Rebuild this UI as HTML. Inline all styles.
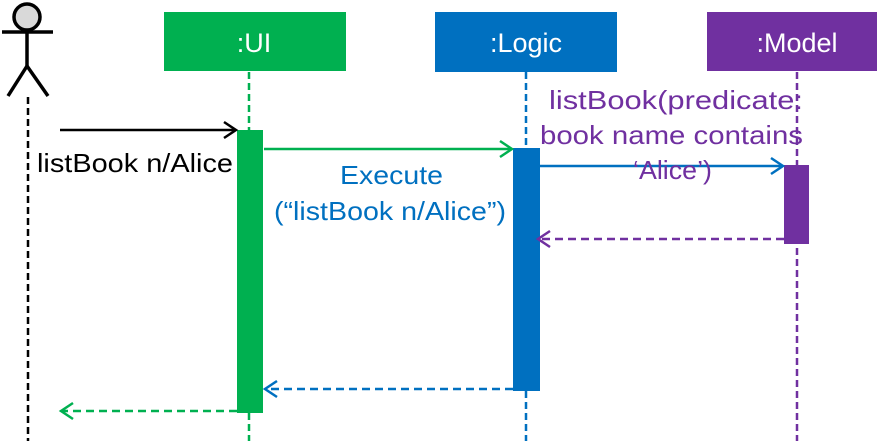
<!DOCTYPE html>
<html><head><style>
body{margin:0;background:#fff;}
svg{display:block;font-family:"Liberation Sans",sans-serif;}
</style></head><body>
<svg width="887" height="441" viewBox="0 0 887 441" xmlns="http://www.w3.org/2000/svg">
<circle cx="27" cy="17" r="13" fill="#d9d9d9" stroke="#000" stroke-width="3.5"/>
<line x1="2" y1="32" x2="53" y2="32" stroke="#000" stroke-width="3.5"/>
<line x1="27" y1="30" x2="27" y2="66" stroke="#000" stroke-width="3.5"/>
<line x1="27" y1="66" x2="8" y2="96" stroke="#000" stroke-width="3.5"/>
<line x1="27" y1="66" x2="48" y2="96" stroke="#000" stroke-width="3.5"/>
<line x1="28" y1="97" x2="28" y2="441" stroke="#000" stroke-width="2.5" stroke-dasharray="7,4"/>
<rect x="164" y="12" width="182" height="59" fill="#00B050"/>
<text x="254" y="52" fill="#fff" font-size="27" text-anchor="middle">:UI</text>
<rect x="435" y="12" width="182" height="60" fill="#0070C0"/>
<text x="526" y="52" fill="#fff" font-size="27" text-anchor="middle">:Logic</text>
<rect x="707" y="12" width="170" height="59" fill="#7030A0"/>
<text x="797" y="52" fill="#fff" font-size="27" text-anchor="middle">:Model</text>
<line x1="249" y1="72" x2="249" y2="441" stroke="#00B050" stroke-width="2.5" stroke-dasharray="7,4"/>
<line x1="526" y1="72" x2="526" y2="441" stroke="#0070C0" stroke-width="2.5" stroke-dasharray="7,4"/>
<line x1="797" y1="72" x2="797" y2="441" stroke="#7030A0" stroke-width="2.5" stroke-dasharray="7,4"/>
<rect x="237" y="130" width="26" height="283" fill="#00B050"/>
<rect x="513" y="148" width="27" height="243" fill="#0070C0"/>
<rect x="784" y="165" width="25" height="79" fill="#7030A0"/>
<g fill="none" stroke-width="2.5">
<line x1="60" y1="130" x2="236" y2="130" stroke="#000"/>
<polyline points="224,122 236,130 224,138" stroke="#000"/>
<line x1="264" y1="149" x2="512" y2="149" stroke="#00B050"/>
<polyline points="500,141 512,149 500,157" stroke="#00B050"/>
<line x1="540" y1="166" x2="783" y2="166" stroke="#0070C0"/>
<polyline points="771,158 783,166 771,174" stroke="#0070C0"/>
<line x1="784" y1="239" x2="538" y2="239" stroke="#7030A0" stroke-dasharray="8,5"/>
<polyline points="550,231 538,239 550,247" stroke="#7030A0"/>
<line x1="513" y1="389" x2="265" y2="389" stroke="#0070C0" stroke-dasharray="8,5"/>
<polyline points="277,381 265,389 277,397" stroke="#0070C0"/>
<line x1="237" y1="411" x2="61" y2="411" stroke="#00B050" stroke-dasharray="8,5"/>
<polyline points="73,403 61,411 73,419" stroke="#00B050"/>
</g>
<text x="37" y="172" font-size="26" textLength="196" lengthAdjust="spacingAndGlyphs" fill="#000">listBook n/Alice</text>
<text x="340" y="184" font-size="26" textLength="103" lengthAdjust="spacingAndGlyphs" fill="#0070C0">Execute</text>
<text x="274" y="220" font-size="26" textLength="232" lengthAdjust="spacingAndGlyphs" fill="#0070C0">(“listBook n/Alice”)</text>
<text x="549" y="109" font-size="26" textLength="254" lengthAdjust="spacingAndGlyphs" fill="#7030A0">listBook(predicate:</text>
<text x="540" y="144" font-size="26" textLength="263" lengthAdjust="spacingAndGlyphs" fill="#7030A0">book name contains</text>
<text x="633" y="179" font-size="26" textLength="79" lengthAdjust="spacingAndGlyphs" fill="#7030A0">‘Alice’)</text>
</svg>
</body></html>
